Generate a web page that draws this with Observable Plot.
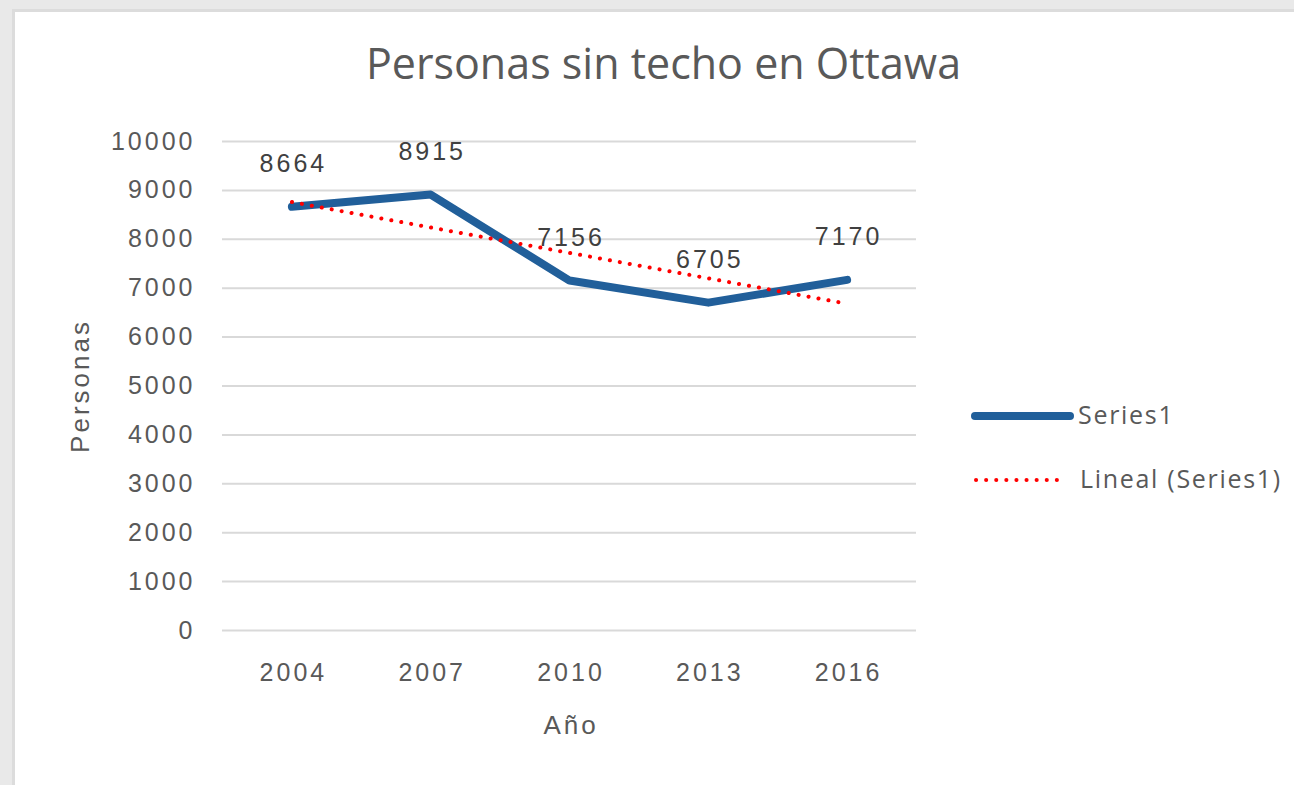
<!DOCTYPE html>
<html>
<head>
<meta charset="utf-8">
<script src="https://cdn.jsdelivr.net/npm/d3@7"></script>
<script src="https://cdn.jsdelivr.net/npm/@observablehq/plot@0.6"></script>
<style>
  html, body { margin: 0; padding: 0; }
  body { width: 1294px; height: 785px; position: relative; overflow: hidden; background: #e9e9e9; }
  #panel { position: absolute; left: 12px; top: 9px; width: 1300px; height: 800px; background: #fff; border: 3px solid #dcdcdc; box-sizing: border-box; }
  #title { position: absolute; left: 0; width: 1327px; top: 33px; text-align: center; font-family: "Open Sans", sans-serif; font-size: 43px; color: #595959; white-space: nowrap; }
  #chart { position: absolute; left: 0; top: 100px; }
  #chart svg text { letter-spacing: 3px; }
  .leg { position: absolute; font-family: "Open Sans", sans-serif; font-size: 25px; letter-spacing: 1.7px; color: #595959; white-space: nowrap; line-height: 1; }
  .sw { position: absolute; }
</style>
</head>
<body>
<div id="panel"></div>
<div id="title">Personas sin techo en Ottawa</div>
<div id="chart"></div>
<svg class="sw" style="left:970px;top:406px" width="110" height="20"><line x1="5" y1="10" x2="100" y2="10" stroke="#215f9a" stroke-width="8" stroke-linecap="round"/></svg>
<div class="leg" style="left:1078px;top:402px">Series1</div>
<svg class="sw" style="left:970px;top:470px" width="110" height="20"><line x1="6" y1="10" x2="96" y2="10" stroke="#ff0000" stroke-width="4" stroke-dasharray="0.1 10" stroke-linecap="round"/></svg>
<div class="leg" style="left:1080px;top:466px">Lineal (Series1)</div>
<script>
const years = [2004, 2007, 2010, 2013, 2016];
const values = [8664, 8915, 7156, 6705, 7170];
const yTicks = [0, 1000, 2000, 3000, 4000, 5000, 6000, 7000, 8000, 9000, 10000];

const data = years.map((year, i) => ({year, value: values[i]}));

const chart = Plot.plot({
  width: 960,
  height: 685,
  marginLeft: 222,
  marginRight: 44,
  marginTop: 41,
  marginBottom: 155,
  style: {fontFamily: "'Liberation Sans', Arial, sans-serif", fontSize: "25px", color: "#595959", background: "transparent"},
  x: {domain: [2002.5, 2017.5]},
  y: {domain: [0, 10000]},
  marks: [
    Plot.gridY(yTicks, {stroke: "#d9d9d9", strokeWidth: 2, strokeOpacity: 1}),
    Plot.axisY(yTicks, {tickSize: 0, tickPadding: 27, fontSize: 25, fill: "#595959",
      tickFormat: d => String(d), label: null}),
    Plot.axisX(years, {tickSize: 0, tickPadding: 33, fontSize: 25, dx: 1.5, fill: "#595959",
      tickFormat: d => String(d), label: null}),
    Plot.line(data, {x: "year", y: "value", stroke: "#215f9a", strokeWidth: 8, strokeLinejoin: "round", strokeLinecap: "round"}),
    Plot.linearRegressionY(data, {x: "year", y: "value", stroke: "#ff0000", strokeWidth: 4, strokeDasharray: "0.1 10", strokeLinecap: "round", ci: 0}),
    Plot.text(data, {x: "year", y: "value", text: d => String(d.value), dy: -43, dx: 1.5, fontSize: 25, fill: "#404040"}),
    Plot.text(["Personas"], {frameAnchor: "left", dx: -142, rotate: -90, textAnchor: "middle", fontSize: 26, fill: "#595959"}),
    Plot.text(["Año"], {frameAnchor: "bottom", dy: 103, dx: 1.5, fontSize: 26, fill: "#595959"})
  ]
});
document.getElementById("chart").appendChild(chart);
</script>
</body>
</html>
